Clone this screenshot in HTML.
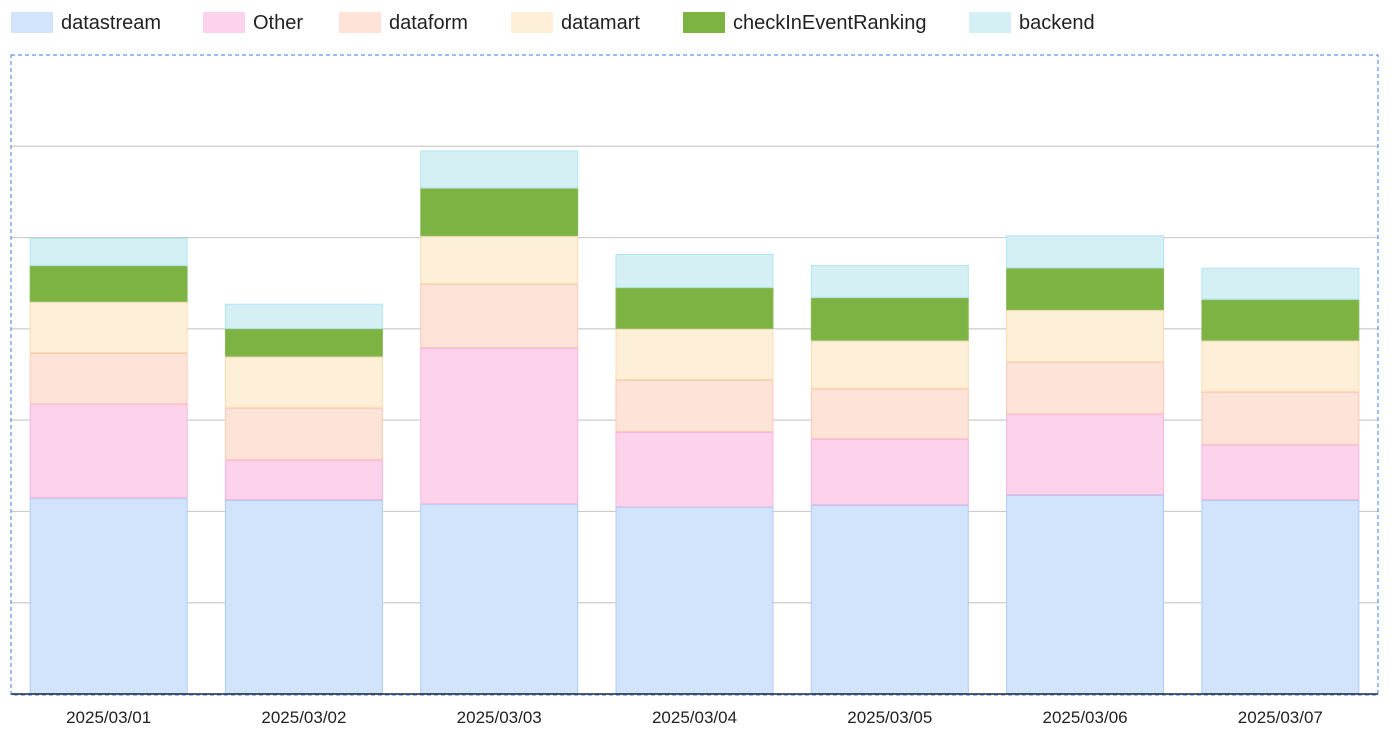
<!DOCTYPE html>
<html><head><meta charset="utf-8"><style>
body{margin:0;background:#fff;width:1400px;height:740px;overflow:hidden;font-family:"Liberation Sans",sans-serif}
</style></head><body>
<svg id="chart" width="1400" height="740" xmlns="http://www.w3.org/2000/svg"></svg>
<script>
const categories=["2025/03/01","2025/03/02","2025/03/03","2025/03/04","2025/03/05","2025/03/06","2025/03/07"];
const seriesNames=["datastream","Other","dataform","datamart","checkInEventRanking","backend"];
const datastream=[42.9,42.5,41.6,41.0,41.4,43.6,42.5];
const other=[20.6,8.8,34.2,16.4,14.5,17.7,12.1];
const dataform=[11.2,11.4,14.0,11.4,11.0,11.4,11.6];
const datamart=[11.2,11.2,10.5,11.2,10.5,11.4,11.2];
const checkIn=[7.9,6.1,10.5,9.0,9.4,9.2,9.0];
const backend=[6.1,5.5,8.3,7.4,7.2,7.2,7.0];
const gridTicks=[0,20,40,60,80,100,120,140];
const seriesValues=[datastream,other,dataform,datamart,checkIn,backend];
const fills=["#d2e3fc","#fdd3ec","#fde3d8","#feefd9","#7cb342","#d5f0f5"];
const strokes=["#aecbfa","#f8b6dc","#f9c9b5","#fddbb0","#8ab85a","#aee6f0"];
const legendX=[11,203,339,511,683,969];
const NS="http://www.w3.org/2000/svg";
const svg=document.getElementById('chart');
const L=11,R=1378,T=55,B=694,yMax=140;
const y=v=>B-(v/yMax)*(B-T);
const band=(R-L)/categories.length;
const x=i=>L+band*i;
const bw=158;
function mk(t,a){const e=document.createElementNS(NS,t);for(const k in a)e.setAttribute(k,a[k]);svg.appendChild(e);return e;}
gridTicks.forEach(t=>{if(t===0||t===yMax)return;
const g=mk('line',{x1:L,x2:R,y1:y(t),y2:y(t),stroke:'#cccccc','stroke-width':1.2});

});
categories.forEach((c,i)=>{let acc=0;const cx=x(i)+band/2;
seriesValues.forEach((s,k)=>{const v=s[i];const r=mk('rect',{x:cx-bw/2+0.5,y:y(acc+v)+0.5,width:bw-1,height:Math.max(0,y(acc)-y(acc+v)-1),fill:fills[k],stroke:strokes[k],'stroke-width':1});


acc+=v;});
const tx=mk('text',{x:cx,y:723,'text-anchor':'middle','font-size':17,fill:'#222'});tx.textContent=c;

});
const base=mk('line',{x1:L,x2:R,y1:B,y2:B,stroke:'#222','stroke-width':1.5});


const fr=mk('rect',{x:L,y:T,width:R-L,height:B-T+1,fill:'none',stroke:'#3b78e7','stroke-width':1,'stroke-dasharray':'4 3'});


seriesNames.forEach((n,k)=>{const g=document.createElementNS(NS,'g');svg.appendChild(g);


const r=document.createElementNS(NS,'rect');r.setAttribute('x',legendX[k]);r.setAttribute('y',12);r.setAttribute('width',42);r.setAttribute('height',21);r.setAttribute('fill',fills[k]);g.appendChild(r);
const t=document.createElementNS(NS,'text');t.setAttribute('x',legendX[k]+50);t.setAttribute('y',29);t.setAttribute('font-size',20);t.setAttribute('fill','#222');t.textContent=n;g.appendChild(t);});
</script>
</body></html>
